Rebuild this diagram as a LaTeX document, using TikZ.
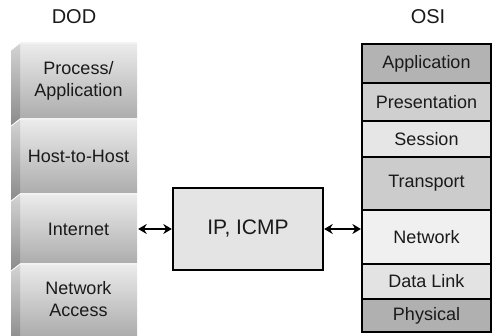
\documentclass[tikz,border=0pt]{standalone}
\usepackage{fontspec}
\setmainfont{Liberation Sans}
\usetikzlibrary{arrows.meta}
\definecolor{txt}{HTML}{1A1A1A}
\definecolor{facetop}{HTML}{ECECEC}
\definecolor{facebot}{HTML}{ACACAC}
\definecolor{beveltop}{HTML}{D4D4D4}
\definecolor{bevelbot}{HTML}{8A8A8A}
\definecolor{cApp}{HTML}{B3B3B3}
\definecolor{cPres}{HTML}{CFCFCF}
\definecolor{cSess}{HTML}{E6E6E6}
\definecolor{cTrans}{HTML}{CCCCCC}
\definecolor{cNet}{HTML}{F0F0F0}
\definecolor{cDL}{HTML}{E3E3E3}
\definecolor{cPhys}{HTML}{B0B0B0}
\definecolor{cIP}{HTML}{E4E4E4}
\begin{document}
\begin{tikzpicture}[x=1pt,y=-1pt,
  lbl/.style={text=txt,font=\fontsize{18}{22.5}\selectfont,align=center,inner sep=0pt},
  dodface/.style={lbl,minimum width=117pt},
  osibox/.style={lbl,draw=black,line width=2.2pt,minimum width=129pt},
  ipbox/.style={draw=black,line width=2.4pt,fill=cIP,text=txt,font=\fontsize{21}{26}\selectfont,minimum width=150pt,minimum height=82pt,inner sep=0pt},
  heading/.style={text=txt,font=\fontsize{20}{24}\selectfont,inner sep=0pt},
  dbl/.style={{Stealth[length=8.5pt,width=10pt]}-{Stealth[length=8.5pt,width=10pt]},line width=2pt,black}
]
\useasboundingbox (0,0) rectangle (492,336);

% DOD stack: faces and bevels
\foreach \t/\b in {43/119,119/194,194/264,264/336}{
  \shade[top color=facetop,bottom color=facebot] (20,\t) rectangle (137,\b);
  \shade[top color=beveltop,bottom color=bevelbot] (11,\t+7) -- (20,\t) -- (20,\b) -- (11,\b+7) -- cycle;
  \draw[white,line width=0.8pt] (11,\t+7) -- (20,\t) -- (137,\t);
}

\node[heading] (dod) at (74,17) {DOD};
\node[heading] (osi) at (428,17) {OSI};

\node[dodface,minimum height=76pt] (pa) at (78.5,81) {Process/\\Application};
\node[dodface,minimum height=75pt] (hh) at (78.5,156.5) {Host-to-Host};
\node[dodface,minimum height=70pt] (inet) at (78.5,229) {Internet};
\node[dodface,minimum height=70pt] (na) at (78.5,299) {Network\\Access};

% OSI stack
\node[osibox,fill=cApp,minimum height=39pt] (app) at (426.5,63.5) {Application};
\node[osibox,fill=cPres,minimum height=38pt] (pres) at (426.5,102) {Presentation};
\node[osibox,fill=cSess,minimum height=36pt] (sess) at (426.5,139) {Session};
\node[osibox,fill=cTrans,minimum height=53pt] (trans) at (426.5,183.5) {Transport};
\node[osibox,fill=cNet,minimum height=54pt] (net) at (426.5,237) {Network};
\node[osibox,fill=cDL,minimum height=35pt] (dl) at (426.5,281.5) {Data Link};
\node[osibox,fill=cPhys,minimum height=33pt] (phys) at (426.5,315.5) {Physical};

% IP box
\node[ipbox] (ip) at (248,229) {IP, ICMP};

% connectors
\draw[dbl] ([xshift=1pt]inet.east) -- (ip.west);
\draw[dbl] (ip.east) -- (ip.east -| net.west);
\end{tikzpicture}
\end{document}
